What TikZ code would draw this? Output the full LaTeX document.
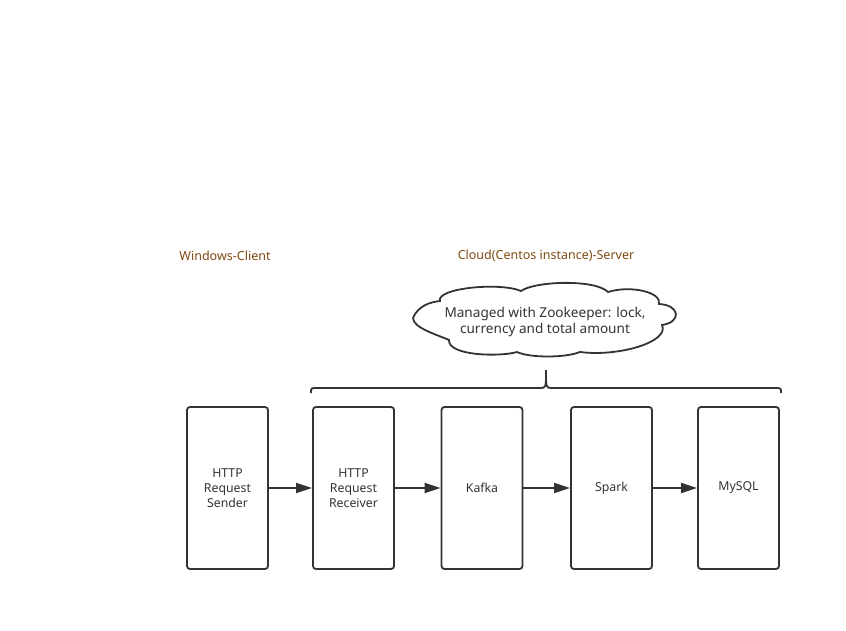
\documentclass[tikz,border=0pt]{standalone}
\usepackage{fontspec}
\setmainfont{Noto Sans}
\usepackage{xcolor}
\usepackage{tikz}
\usetikzlibrary{arrows.meta}
\usetikzlibrary{positioning}

\definecolor{linegray}{HTML}{333333}
\definecolor{titlebrown}{HTML}{7F4A10}

\tikzset{
  box/.style={rectangle, draw=linegray, line width=1.8pt, rounded corners=3pt,
    minimum width=81, minimum height=162, align=center, font=\fontsize{12.3}{15}\selectfont, text=linegray},
  flow/.style={-{Triangle[length=16pt,width=10pt]}, draw=linegray, line width=1.8pt},
  title/.style={text=titlebrown, font=\fontsize{12.5}{14}\selectfont}
}

\begin{document}
\begin{tikzpicture}[x=1pt, y=-1pt]
        \useasboundingbox (0,0) rectangle (846,631);

        % Titel
        \node[title] (client) at (225,256) {Windows-Client};
        \node[title] (server) at (546,256) {Cloud(Centos instance)-Server};

        % Wolke
        \node[align=center, text=linegray, font=\fontsize{13.6}{16}\selectfont] (zk) at (545,321.5)
              {Managed with Zookeeper: lock,\\currency and total amount};
        \draw[linegray, line width=1.8pt] (413,318)
              .. controls (418,306) and (430,302) .. (440,301)
              .. controls (436,288) and (500,282) .. (521,291)
              .. controls (535,281) and (595,279) .. (608,292)
              .. controls (630,285) and (662,292) .. (659,304)
              .. controls (680,305) and (682,322) .. (662,325)
              .. controls (670,342) and (618,357) .. (580,352)
              .. controls (565,358) and (530,358) .. (517,352)
              .. controls (500,357) and (448,356) .. (449,340)
              .. controls (438,335) and (413,328) .. cycle;

        % Klammer
        \draw[linegray, line width=1.8pt] (311,393) .. controls (311,388) .. (317,388) -- (540,388)
              .. controls (546,388) .. (546,370);
        \draw[linegray, line width=1.8pt] (781,393) .. controls (781,388) .. (775,388) -- (552,388)
              .. controls (546,388) .. (546,370);

        % Kaesten
        \node[box] (sender) at (227.5,488) {HTTP\\Request\\Sender};
        \node[box] (receiver) at (353.5,488) {HTTP\\Request\\Receiver};
        \node[box] (kafka) at (482,488) {Kafka};
        \node[box] (spark) at (611.5,488) {Spark};
        \node[box] (mysql) at (738.5,488) {MySQL};

        % Pfeile
        \draw[flow] (sender) -- (receiver);
        \draw[flow] (receiver) -- (kafka);
        \draw[flow] (kafka) -- (spark);
        \draw[flow] (spark) -- (mysql);

    \end{tikzpicture}
\end{document}
